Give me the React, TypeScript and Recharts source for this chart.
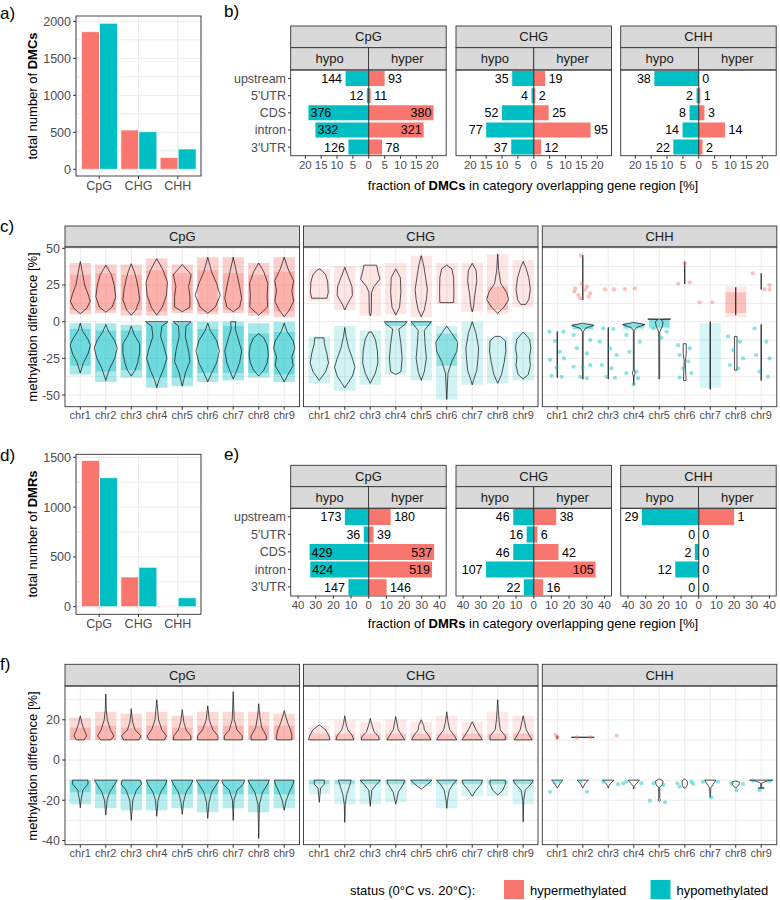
import React from "react";
import {
  BarChart, Bar, XAxis, YAxis, CartesianGrid, ReferenceLine, ReferenceArea,
  LabelList, ComposedChart, Line, Scatter,
} from "recharts";

const RED = "#F8766D";
const TEAL = "#00BFC4";
const FONT = "'Liberation Sans', Arial, Helvetica, sans-serif";
const TICK_COLOR = "#4D4D4D";
const FRAME = "#333333";
const STRIP = "#D9D9D9";
const GRID = "#EBEBEB";

// ---------------- a) / d) totals ----------------
const contexts = ["CpG", "CHG", "CHH"];
const dmcHyperTotal = [1860, 531, 160];
const dmcHypoTotal = [1973, 508, 274];
const dmrHyperTotal = [1469, 299, 5];
const dmrHypoTotal = [1295, 395, 90];

// ---------------- b) / e) gene regions ----------------
const regions = ["upstream", "5'UTR", "CDS", "intron", "3'UTR"];
const dmcCpgHypoPct = [7.3, 0.6, 19.0, 16.8, 6.4];
const dmcCpgHyperPct = [5.0, 0.6, 20.4, 17.3, 4.2];
const dmcChgHypoPct = [6.8, 0.7, 10.0, 15.0, 7.1];
const dmcChgHyperPct = [3.6, 0.5, 4.7, 17.9, 2.3];
const dmcChhHypoPct = [14.0, 0.7, 2.9, 5.1, 8.0];
const dmcChhHyperPct = [0, 0.5, 1.8, 8.3, 1.2];
const dmcCpgHypoN = [144, 12, 376, 332, 126];
const dmcCpgHyperN = [93, 11, 380, 321, 78];
const dmcChgHypoN = [35, 4, 52, 77, 37];
const dmcChgHyperN = [19, 2, 25, 95, 12];
const dmcChhHypoN = [38, 2, 8, 14, 22];
const dmcChhHyperN = [0, 1, 3, 14, 2];

const dmrCpgHypoPct = [13.5, 2.8, 33.5, 33.1, 11.5];
const dmrCpgHyperPct = [12.4, 2.7, 37.0, 35.8, 10.1];
const dmrChgHypoPct = [11.6, 4.0, 11.6, 27.0, 5.6];
const dmrChgHyperPct = [12.7, 2.0, 14.0, 35.0, 5.3];
const dmrChhHypoPct = [32.2, 0, 2.2, 13.3, 0];
const dmrChhHyperPct = [20, 0, 0, 0, 0];
const dmrCpgHypoN = [173, 36, 429, 424, 147];
const dmrCpgHyperN = [180, 39, 537, 519, 146];
const dmrChgHypoN = [46, 16, 46, 107, 22];
const dmrChgHyperN = [38, 6, 42, 105, 16];
const dmrChhHypoN = [29, 0, 2, 12, 0];
const dmrChhHyperN = [1, 0, 0, 0, 0];

const dmcTicks = [-20, -15, -10, -5, 0, 5, 10, 15, 20];
const dmrTicks = [-40, -30, -20, -10, 0, 10, 20, 30, 40];

// ---------------- c) / f) violins ----------------
const chromosomes = ["chr1", "chr2", "chr3", "chr4", "chr5", "chr6", "chr7", "chr8", "chr9"];
const chrPos = [1, 2, 3, 4, 5, 6, 7, 8, 9];

// knots: [methylation difference, half width]
const cCpgHyperV = [
  [[5.5, 0], [9, 0.25], [14, 0.39], [19, 0.3], [25, 0.17], [32, 0.1], [41, 0]],
  [[6.5, 0], [10, 0.25], [17, 0.39], [25, 0.33], [32, 0.22], [38.5, 0]],
  [[4.5, 0], [8, 0.18], [15, 0.33], [22, 0.28], [29, 0.2], [34, 0.12], [39.5, 0]],
  [[4.5, 0], [10, 0.22], [18, 0.38], [27, 0.42], [35, 0.25], [43, 0]],
  [[6.8, 0], [10, 0.3], [17, 0.3], [24, 0.25], [32, 0.35], [39, 0]],
  [[5.7, 0], [10, 0.3], [18, 0.49], [26, 0.35], [34, 0.15], [44, 0]],
  [[6.8, 0], [10, 0.25], [16, 0.33], [24, 0.25], [32, 0.15], [40, 0.05], [44, 0]],
  [[4.5, 0], [10, 0.35], [18, 0.33], [26, 0.36], [34, 0.2], [40, 0]],
  [[3.4, 0], [8, 0.2], [14, 0.37], [21, 0.3], [28, 0.37], [36, 0.15], [44, 0]],
];
const cCpgHypoV = [
  [[-1, 0], [-6, 0.08], [-12, 0.3], [-16, 0.4], [-22, 0.3], [-28, 0.12], [-35, 0]],
  [[-2, 0], [-7, 0.12], [-13, 0.35], [-18, 0.45], [-25, 0.35], [-32, 0.15], [-40, 0]],
  [[-3, 0], [-9, 0.12], [-15, 0.33], [-21, 0.33], [-28, 0.25], [-33, 0.15], [-37, 0]],
  [[0, 0.44], [-3, 0.2], [-10, 0.15], [-18, 0.3], [-25, 0.4], [-33, 0.25], [-40, 0.08], [-45, 0]],
  [[0, 0.35], [-3, 0.15], [-10, 0.12], [-20, 0.25], [-27, 0.3], [-35, 0.12], [-44, 0]],
  [[-1, 0], [-6, 0.1], [-13, 0.35], [-20, 0.46], [-28, 0.35], [-35, 0.15], [-41, 0]],
  [[0, 0.1], [-5, 0.08], [-12, 0.2], [-20, 0.33], [-28, 0.25], [-34, 0.12], [-39, 0]],
  [[-8, 0], [-11, 0.2], [-16, 0.33], [-22, 0.38], [-28, 0.33], [-33, 0.2], [-37, 0]],
  [[-1, 0], [-7, 0.12], [-13, 0.35], [-18, 0.42], [-24, 0.3], [-30, 0.35], [-36, 0.15], [-41, 0]],
];
const cChgHyperV = [
  [[16, 0.3], [20, 0.35], [27, 0.33], [32, 0.25], [35, 0.1], [36, 0]],
  [[8, 0], [12, 0.1], [18, 0.3], [24, 0.28], [30, 0.15], [37, 0]],
  [[4, 0], [6, 0.04], [20, 0.05], [24, 0.15], [29, 0.38], [34, 0.3], [38.5, 0.25]],
  [[4.5, 0], [10, 0.15], [20, 0.2], [30, 0.18], [36, 0]],
  [[3.4, 0], [8, 0.12], [15, 0.2], [22, 0.24], [30, 0.17], [38, 0.1], [45, 0]],
  [[13, 0.27], [20, 0.28], [30, 0.27], [36, 0.2], [38.6, 0]],
  [[6.8, 0], [10, 0.05], [18, 0.1], [28, 0.18], [35, 0.15], [39.8, 0]],
  [[5.7, 0], [10, 0.25], [15, 0.43], [20, 0.35], [26, 0.12], [35, 0.04], [46, 0]],
  [[11.8, 0.1], [15, 0.22], [22, 0.28], [30, 0.22], [37, 0.1], [41, 0]],
];
const cChgHypoV = [
  [[-11, 0.18], [-15, 0.2], [-22, 0.3], [-28, 0.36], [-34, 0.25], [-40, 0]],
  [[-4, 0], [-10, 0.05], [-18, 0.15], [-25, 0.3], [-31, 0.4], [-37, 0.3], [-45, 0]],
  [[-7, 0.05], [-12, 0.2], [-20, 0.28], [-28, 0.3], [-35, 0.2], [-42, 0]],
  [[0, 0.45], [-2, 0.35], [-5, 0.12], [-15, 0.2], [-25, 0.25], [-34, 0.2], [-36, 0]],
  [[0, 0.4], [-2, 0.3], [-6, 0.12], [-15, 0.15], [-25, 0.2], [-34, 0.12], [-40, 0]],
  [[-3, 0], [-8, 0.2], [-14, 0.43], [-20, 0.4], [-27, 0.2], [-35, 0.05], [-53, 0]],
  [[0, 0], [-8, 0.15], [-18, 0.25], [-26, 0.22], [-33, 0.18], [-40, 0.05], [-43, 0]],
  [[-10, 0.1], [-13, 0.3], [-20, 0.32], [-28, 0.25], [-36, 0.15], [-42, 0]],
  [[-7, 0], [-12, 0.25], [-18, 0.3], [-24, 0.25], [-30, 0.28], [-36, 0.2], [-39, 0]],
];
const cChhHyperV = [
  null,
  [[14.8, 0], [45.5, 0]],
  null,
  null,
  null,
  [[25.7, 0], [41, 0]],
  null,
  [[4.5, 0], [23.4, 0]],
  [[22, 0], [33, 0]],
];
const cChhHypoV = [
  [[-6.8, 0.01], [-38, 0.01]],
  [[-1, 0], [-2.5, 0.44], [-4.5, 0.1], [-7, 0.015], [-39, 0.015]],
  [[-4, 0.01], [-39, 0.01]],
  [[-0.5, 0], [-2, 0.44], [-4, 0.1], [-6, 0.015], [-33, 0.015], [-35, 0.06], [-37, 0.015], [-43, 0]],
  [[1.8, 0.45], [1.5, 0.05], [0, 0.15], [-3, 0.12], [-7, 0.02], [-39, 0.015]],
  [[-15, 0.06], [-22, 0.06], [-27, 0.02], [-35, 0.04], [-40, 0.05]],
  [[0, 0.01], [-46, 0.01]],
  [[-10, 0.05], [-33, 0.05]],
  [[-2, 0.01], [-40, 0.01]],
];

const fCpgHyperV = [
  [[10, 0.15], [12, 0.25], [15, 0.15], [18, 0.07], [22, 0]],
  [[10, 0.2], [12, 0.32], [15, 0.18], [20, 0.06], [25, 0.02], [32.8, 0]],
  [[10, 0.3], [12, 0.38], [15, 0.15], [19, 0.05], [25.5, 0]],
  [[10, 0.3], [12, 0.38], [15, 0.2], [20, 0.07], [30, 0]],
  [[10, 0.35], [12, 0.33], [15, 0.15], [19, 0.06], [25, 0]],
  [[10, 0.4], [12, 0.4], [15, 0.2], [20, 0.06], [27, 0]],
  [[10, 0.35], [12, 0.35], [15, 0.15], [20, 0.04], [34, 0]],
  [[10, 0.3], [12, 0.3], [16, 0.12], [22, 0.04], [28, 0]],
  [[10, 0.3], [12, 0.3], [15, 0.25], [18, 0.15], [22, 0.05], [24.5, 0]],
];
const fCpgHypoV = [
  [[-10, 0.3], [-12, 0.3], [-15, 0.1], [-20, 0.03], [-23.7, 0]],
  [[-10, 0.45], [-12, 0.35], [-16, 0.15], [-20, 0.05], [-27.4, 0]],
  [[-10, 0.35], [-12, 0.4], [-15, 0.2], [-20, 0.06], [-30, 0]],
  [[-10, 0.4], [-12, 0.35], [-16, 0.15], [-20, 0.05], [-28, 0]],
  [[-10, 0.42], [-12, 0.35], [-16, 0.15], [-21, 0.05], [-27, 0]],
  [[-10, 0.45], [-12, 0.35], [-16, 0.15], [-21, 0.05], [-29, 0]],
  [[-10, 0.45], [-12, 0.4], [-15, 0.15], [-20, 0.03], [-30, 0]],
  [[-10, 0.42], [-12, 0.35], [-16, 0.15], [-22, 0.03], [-39, 0]],
  [[-10, 0.38], [-12, 0.35], [-16, 0.2], [-20, 0.08], [-25, 0]],
];
const fChgHyperV = [
  [[10, 0.42], [12, 0.38], [15, 0.25], [17, 0.05], [17.4, 0]],
  [[10, 0.35], [12, 0.3], [15, 0.12], [18, 0.05], [22, 0]],
  [[10, 0.35], [11.5, 0.33], [14, 0.15], [18, 0.05], [20.7, 0]],
  [[10, 0.35], [12, 0.25], [15, 0.1], [21.6, 0]],
  [[10, 0.38], [12, 0.3], [15, 0.12], [17, 0.1], [20, 0]],
  [[10, 0.4], [12, 0.3], [15, 0.12], [19, 0.05], [24, 0]],
  [[10, 0.4], [12, 0.3], [15, 0.15], [19, 0]],
  [[10, 0.3], [12, 0.3], [15, 0.1], [20, 0.05], [30, 0]],
  [[10, 0.35], [12, 0.25], [15, 0.12], [22, 0]],
];
const fChgHypoV = [
  [[-10, 0.2], [-12, 0.2], [-14, 0.05], [-21, 0]],
  [[-10, 0.25], [-13, 0.18], [-17, 0.08], [-22, 0.02], [-31, 0]],
  [[-10, 0.4], [-12, 0.25], [-15, 0.06], [-23, 0]],
  [[-10, 0.35], [-12, 0.3], [-16, 0.1], [-22, 0]],
  [[-10, 0.42], [-12, 0.25], [-14, 0.05], [-14.5, 0]],
  [[-10, 0.4], [-12, 0.25], [-15, 0.1], [-20, 0.03], [-24, 0]],
  [[-10, 0.4], [-12, 0.35], [-15, 0.15], [-18, 0]],
  [[-10, 0.3], [-12, 0.3], [-15, 0.2], [-17.4, 0]],
  [[-10, 0.4], [-12, 0.3], [-15, 0.08], [-20, 0.02], [-30.7, 0]],
];
const fChhHyperV = [
  [[10.5, 0.02], [12, 0.02]],
  [[11.3, 0.45]],
  null, null, null, null, null, null, null,
];
const fChhHypoV = [
  [[-10, 0.22], [-11.5, 0.12], [-13.5, 0.02], [-14, 0]],
  [[-10, 0.22], [-11.5, 0.1], [-13.5, 0.02], [-14, 0]],
  [[-10, 0.22], [-11.5, 0.1], [-13, 0.02], [-14, 0]],
  [[-10, 0.22], [-11.5, 0.12], [-13, 0.02], [-14.5, 0]],
  [[-9.5, 0.02], [-10.5, 0.15], [-12.5, 0.12], [-13.5, 0.02], [-19, 0.02], [-20, 0.05], [-20.5, 0]],
  [[-9.5, 0.02], [-10.5, 0.1], [-12.5, 0.1], [-14, 0.02]],
  [[-10, 0.22], [-12, 0.12], [-14, 0.02], [-18.5, 0.01]],
  [[-10.5, 0.05], [-11, 0.15], [-12.5, 0.12], [-13.5, 0.03], [-14, 0]],
  [[-10, 0.45], [-10.5, 0.2], [-11.5, 0.02], [-13.9, 0.02], [-14, 0.12]],
];

// dense point clouds: [low, high, coreLow, coreHigh]
const cCpgHyperCloud = [[5, 40, 8, 32], [6, 39, 8, 33], [4, 39, 8, 32], [4, 43, 7, 35], [6, 39, 8, 33], [5, 44, 7, 35], [6, 44, 8, 33], [4, 40, 6, 32], [3, 44, 7, 34]];
const cCpgHypoCloud = [[-36, -1, -30, -5], [-41, -1, -34, -6], [-38, -2, -33, -6], [-45, 0, -38, -1], [-44, 0, -38, -1], [-41, 0, -35, -5], [-40, 0, -35, -3], [-38, -1, -35, -8], [-41, 0, -36, -7]];
const cChgHyperCloud = [[14, 36], [8, 38], [4, 38], [5, 40], [3, 45], [12, 40], [7, 40], [5, 46, 8, 24], [10, 42]];
const cChgHypoCloud = [[-42, -10], [-47, -3], [-43, -6], [-36, 0, -3, 0], [-40, 0, -3, 0], [-53, -3, -30, -8], [-43, 0], [-42, -10], [-40, -7]];
const cChhHyperCloud = [null, null, null, null, null, null, null, [3, 24, 6, 20], null];
const cChhHypoCloud = [null, [-6, -1, -5, -1.5], null, [-6, -0.5, -4.5, -1], [-5, 2, -4, 1.5], null, [-45, -1], null, null];
const fCpgHyperCloud = [[10, 21, 10, 16], [10, 24, 10, 17], [10, 23, 10, 16], [10, 24, 10, 17], [10, 22, 10, 16], [10, 24, 10, 17], [10, 24, 10, 17], [10, 24, 10, 17], [10, 23, 10, 17]];
const fCpgHypoCloud = [[-22, -10, -16, -10], [-24, -10, -17, -10], [-25, -10, -17, -10], [-25, -10, -17, -10], [-24, -10, -17, -10], [-26, -10, -17, -10], [-24, -10, -17, -10], [-26, -10, -17, -10], [-24, -10, -17, -10]];
const fChgHyperCloud = [[10, 17, 10, 13], [10, 20, 10, 13], [10, 19, 10, 13], [10, 20, 10, 13], [10, 19, 10, 13], [10, 22, 10, 13], [10, 19, 10, 13], [10, 24, 10, 13], [10, 22, 10, 13]];
const fChgHypoCloud = [[-17, -10, -12, -10], [-22, -10, -12, -10], [-22, -10, -12, -10], [-21, -10, -12, -10], [-13, -10, -12, -10], [-24, -10, -12, -10], [-18, -10, -12, -10], [-18, -10, -12, -10], [-22, -10, -12, -10]];

// sparse individual points: [x (chromosome + jitter), methylation difference]
const cChhHyperPts = [
  [1.93, 45], [1.67, 20.5], [1.83, 18.2], [2.16, 23.9], [2.29, 19.3], [1.9, 15.9], [2.09, 21.6], [1.7, 22.7], [2.22, 17], [1.96, 26],
  [2.87, 22], [3.22, 22], [3.65, 22.3], [4.04, 22.7],
  [6.0, 39.8], [5.74, 26], [6.2, 26.8], [6.58, 13.2], [7.08, 13.2],
  [8.67, 33], [9.33, 25], [9.13, 22], [9.33, 22],
];
const cChhHypoPts = [
  [0.69, -6.8], [1.24, -6.8], [0.91, -13.2], [1.1, -20.5], [0.71, -26], [1.26, -25], [0.97, -31.4], [0.78, -36.8], [1.17, -37.5],
  [1.64, -9], [2.29, -12.5], [1.77, -18], [2.16, -21.6], [1.64, -30.7], [2.0, -31.4], [2.29, -29.5], [1.9, -37.5], [2.16, -38.6],
  [2.8, -4.5], [3.2, -5], [2.67, -13.6], [3.07, -18.2], [3.33, -22.7], [2.74, -29.5], [3.13, -31.8], [2.93, -37.5], [3.26, -38.2],
  [3.71, -9], [4.24, -13.6], [3.83, -20.5], [4.1, -34], [3.71, -35], [4.17, -38.6], [4.0, -42.7],
  [4.77, -4.5], [5.29, -6.8], [5.09, -11],
  [5.74, -16], [6.2, -18], [5.8, -22.7], [6.13, -27], [5.93, -31.8], [6.26, -35], [5.8, -38],
  [7.7, -10], [8.16, -13.6], [7.9, -19.3], [8.29, -25], [7.77, -29.5], [8.09, -31.8],
  [8.74, -4.5], [9.2, -13.6], [8.8, -22.7], [9.33, -25], [8.93, -34], [9.26, -37.5],
];
const fChhHyperPts = [[0.93, 12.4], [1.0, 11.3], [1.76, 11.3], [2.29, 11.3], [3.33, 12.1]];
const fChhHypoPts = [
  [0.71, -15.8], [0.91, -11.3], [1.1, -10.8], [2.16, -15.8], [1.9, -10.8],
  [2.8, -10.8], [3.39, -12], [3.59, -11.6], [3.71, -10.8], [4.3, -11.6],
  [4.63, -20.2], [5.23, -21], [4.77, -11.6], [5.16, -12.4],
  [5.71, -11.6], [5.8, -13.3], [6.26, -10.8], [6.33, -11.9],
  [6.71, -10.8], [7.3, -10.8], [7.04, -18.6],
  [7.84, -11.6], [8.29, -11.9], [8.03, -15],
  [8.67, -10.3], [9.33, -10.4], [8.93, -15],
];
const noPts: number[][] = [];

// ---------------- helpers ----------------
function outline(chr: number, knots: number[][]) {
  const right = knots.map(([y, h]) => ({ x: chr + h, y }));
  const left = knots.slice().reverse().map(([y, h]) => ({ x: chr - h, y }));
  return [...right, ...left, right[0]];
}

const makeDot = (color: string) => (p: any) =>
  p && p.cx != null ? <circle cx={p.cx} cy={p.cy} r={2.1} fill={color} fillOpacity={0.45} /> : <g />;

const makeLabel = (side: string, plotL: number, plotR: number) => (props: any) => {
  const vb = props.viewBox || {};
  const x = Number(vb.x ?? props.x);
  const w = Number(vb.width ?? props.width ?? 0);
  const y = Number(vb.y ?? props.y);
  const h = Number(vb.height ?? props.height ?? 0);
  if (!isFinite(x) || !isFinite(y)) return null;
  const zero = (plotL + plotR) / 2;
  let L = Math.min(x, x + w);
  let R = Math.max(x, x + w);
  if (String(props.value) === "0") { L = zero; R = zero; }
  const txt = String(props.value);
  const tw = txt.length * 6.95;
  let tx = 0;
  let anchor = "start";
  if (side === "hypo") {
    if (L - 3.5 - tw - 2 >= plotL) { tx = L - 3.5; anchor = "end"; } else { tx = L + 2; anchor = "start"; }
  } else {
    if (R + 3.5 + tw + 2 <= plotR) { tx = R + 3.5; anchor = "start"; } else { tx = R - 2; anchor = "end"; }
  }
  return (
    <text x={tx} y={y + h / 2} dy="0.36em" textAnchor={anchor} fontSize={12.5} fill="#000" fontFamily={FONT}>
      {txt}
    </text>
  );
};

const tickStyle = (size: number) => ({ fontSize: size, fill: TICK_COLOR, fontFamily: FONT });

// ---------------- components ----------------
function CountBars({ top, hyper, hypo, domain, ticks, grid }: any) {
  const data = contexts.map((c, i) => ({ ctx: c, hyper: hyper[i], hypo: hypo[i] }));
  return (
    <div style={{ position: "absolute", left: 0, top: top - 8 }}>
      <BarChart width={205} height={188} data={data} margin={{ top: 8, right: 4, bottom: 0, left: 36 }} barCategoryGap={2} barGap={0}>
        <CartesianGrid stroke={GRID} horizontalValues={grid} />
        <XAxis dataKey="ctx" height={20} padding={{ left: 3.5, right: 3.5 }} interval={0} axisLine={false}
          tickLine={{ stroke: FRAME }} tickSize={3} tick={tickStyle(12.5)} />
        <YAxis type="number" width={40} domain={domain} ticks={ticks} allowDataOverflow interval={0} axisLine={false}
          tickLine={{ stroke: FRAME }} tickSize={3} tick={tickStyle(12.5)} />
        <Bar dataKey="hyper" fill={RED} stroke="#fff" strokeWidth={0.7} isAnimationActive={false} />
        <Bar dataKey="hypo" fill={TEAL} stroke="#fff" strokeWidth={0.7} isAnimationActive={false} />
      </BarChart>
    </div>
  );
}

function DivFacet({ left, top, h, w, showY, domain, ticks, hypoPct, hyperPct, hypoN, hyperN }: any) {
  const yW = showY ? 72 : 0;
  const LM = showY ? 75 : 2;
  const RM = 3;
  const W = LM + w + RM;
  const H = h + 22;
  const data = regions.map((r, i) => ({
    region: r, hypo: -hypoPct[i], hyper: hyperPct[i], hypoN: hypoN[i], hyperN: hyperN[i],
  }));
  return (
    <div style={{ position: "absolute", left: left - LM, top }}>
      <BarChart layout="vertical" width={W} height={H} data={data}
        margin={{ top: 0, right: RM, bottom: 0, left: LM - yW }} stackOffset="sign" barCategoryGap={1}>
        <XAxis type="number" domain={domain} ticks={ticks} allowDataOverflow interval={0} height={22}
          tickFormatter={(v: number) => String(Math.abs(v))} axisLine={false}
          tickLine={{ stroke: FRAME }} tickSize={3} tick={tickStyle(11.5)} />
        <YAxis type="category" dataKey="region" width={yW} hide={!showY} axisLine={false}
          tickLine={{ stroke: FRAME }} tickSize={3} tick={tickStyle(12.5)} interval={0} />
        <Bar dataKey="hypo" stackId="s" fill={TEAL} stroke="none" minPointSize={0.2} isAnimationActive={false}>
          <LabelList dataKey="hypoN" content={makeLabel("hypo", LM, LM + w)} />
        </Bar>
        <Bar dataKey="hyper" stackId="s" fill={RED} stroke="none" minPointSize={0.2} isAnimationActive={false}>
          <LabelList dataKey="hyperN" content={makeLabel("hyper", LM, LM + w)} />
        </Bar>
        <ReferenceLine x={0} stroke="#1a1a1a" strokeWidth={0.9} />
      </BarChart>
    </div>
  );
}

function ViolinFacet({ left, top, h, w, showY, domain, ticks, gridVals, hyperV, hypoV, hyperC, hypoC, ops, hyperPts, hypoPts }: any) {
  const yW = showY ? 30 : 0;
  const LM = showY ? 65 : 2;
  const RM = 3;
  const TM = 9;
  const W = LM + w + RM;
  const H = TM + h + 20;
  const areas: any[] = [];
  const addCloud = (cl: any[], color: string, tag: string) => {
    cl.forEach((c: any, i: number) => {
      if (!c) return;
      const x = chrPos[i];
      areas.push(
        <ReferenceArea key={`${tag}o${i}`} x1={x - 0.42} x2={x + 0.42} y1={c[0]} y2={c[1]}
          fill={color} fillOpacity={ops[0]} stroke="none" ifOverflow="hidden" />
      );
      if (c.length > 2) {
        areas.push(
          <ReferenceArea key={`${tag}c${i}`} x1={x - 0.4} x2={x + 0.4} y1={c[2]} y2={c[3]}
            fill={color} fillOpacity={ops[1]} stroke="none" ifOverflow="hidden" />
        );
      }
    });
  };
  addCloud(hyperC, RED, "r");
  addCloud(hypoC, TEAL, "t");
  const lines: any[] = [];
  const addViolins = (vs: any[], tag: string) => {
    vs.forEach((k: any, i: number) => {
      if (!k) return;
      lines.push(
        <Line key={`${tag}${i}`} data={outline(chrPos[i], k)} dataKey="y" type="linear" stroke="#1a1a1a"
          strokeWidth={0.75} dot={false} activeDot={false} isAnimationActive={false} />
      );
    });
  };
  addViolins(hyperV, "vr");
  addViolins(hypoV, "vt");
  const rPts = hyperPts.map((p: number[]) => ({ x: p[0], y: p[1] }));
  const tPts = hypoPts.map((p: number[]) => ({ x: p[0], y: p[1] }));
  return (
    <div style={{ position: "absolute", left: left - LM, top: top - TM }}>
      <ComposedChart width={W} height={H} margin={{ top: TM, right: RM, bottom: 0, left: LM - yW }}>
        <CartesianGrid stroke={GRID} horizontalValues={gridVals} verticalValues={chrPos} />
        <XAxis type="number" dataKey="x" domain={[0.4, 9.6]} ticks={chrPos} allowDataOverflow interval={0}
          tickFormatter={(v: number) => chromosomes[v - 1]} height={20} axisLine={false}
          tickLine={{ stroke: FRAME }} tickSize={3} tick={tickStyle(11)} />
        <YAxis type="number" dataKey="y" domain={domain} ticks={ticks} allowDataOverflow interval={0} width={yW}
          hide={!showY} axisLine={false} tickLine={{ stroke: FRAME }} tickSize={3} tick={tickStyle(12.5)} />
        {areas}
        {rPts.length > 0 && <Scatter data={rPts} fill={RED} shape={makeDot(RED)} isAnimationActive={false} />}
        {tPts.length > 0 && <Scatter data={tPts} fill={TEAL} shape={makeDot(TEAL)} isAnimationActive={false} />}
        {lines}
      </ComposedChart>
    </div>
  );
}

// ---------------- overlay (frames, strips, titles, legend) ----------------
const divLefts = [290.7, 456, 620.7];
const divW = 155.5;
const vioLefts = [65, 303.5, 542.3];
const vioW = 234.5;

function Overlay() {
  const els: any[] = [];
  const rect = (k: string, x: number, y: number, w: number, h: number, fill: string) =>
    els.push(<rect key={k} x={x} y={y} width={w} height={h} fill={fill} stroke={FRAME} strokeWidth={0.9} />);
  const txt = (k: string, x: number, y: number, s: string, size = 13, anchor = "middle", color = "#1A1A1A") =>
    els.push(<text key={k} x={x} y={y} fontSize={size} textAnchor={anchor} fill={color}>{s}</text>);

  rect("fa", 76, 16, 125, 160, "none");
  rect("fd", 76, 454.3, 125, 160, "none");
  const stripDiv = (tag: string, sTop: number, sMid: number, pTop: number, pH: number) => {
    divLefts.forEach((L, i) => {
      rect(`${tag}s${i}`, L, sTop, divW, sMid - sTop, STRIP);
      rect(`${tag}h${i}`, L, sMid, divW / 2, pTop - sMid, STRIP);
      rect(`${tag}k${i}`, L + divW / 2, sMid, divW / 2, pTop - sMid, STRIP);
      rect(`${tag}p${i}`, L, pTop, divW, pH, "none");
      txt(`${tag}t${i}`, L + divW / 2, (sTop + sMid) / 2 + 4.6, contexts[i]);
      txt(`${tag}o${i}`, L + divW / 4, (sMid + pTop) / 2 + 4.6, "hypo");
      txt(`${tag}e${i}`, L + (3 * divW) / 4, (sMid + pTop) / 2 + 4.6, "hyper");
    });
  };
  stripDiv("b", 26, 47.7, 70, 85.7);
  stripDiv("e", 465.3, 486.7, 508.3, 87.7);
  const stripVio = (tag: string, sTop: number, pTop: number, pH: number) => {
    vioLefts.forEach((L, i) => {
      rect(`${tag}s${i}`, L, sTop, vioW, pTop - sTop, STRIP);
      rect(`${tag}p${i}`, L, pTop, vioW, pH, "none");
      txt(`${tag}t${i}`, L + vioW / 2, (sTop + pTop) / 2 + 4.6, contexts[i]);
    });
  };
  stripVio("c", 226, 247, 159.7);
  stripVio("f", 664.3, 686, 158.7);

  const letters = [["a)", 0, 19], ["b)", 224, 17], ["c)", 0, 232], ["d)", 0, 461], ["e)", 224, 460], ["f)", 0, 670]];
  letters.forEach(([s, x, y]: any) => txt(`L${s}`, x, y, s, 17, "start", "#000"));

  return (
    <svg width={780} height={900} style={{ position: "absolute", left: 0, top: 0, pointerEvents: "none" }} fontFamily={FONT}>
      {els}
      <text transform="translate(37,96) rotate(-90)" textAnchor="middle" fontSize={13} fill="#000">
        total number of <tspan fontWeight="bold">DMCs</tspan>
      </text>
      <text transform="translate(37,534) rotate(-90)" textAnchor="middle" fontSize={13} fill="#000">
        total number of <tspan fontWeight="bold">DMRs</tspan>
      </text>
      <text transform="translate(37,327) rotate(-90)" textAnchor="middle" fontSize={13} fill="#000">
        methylation difference [%]
      </text>
      <text transform="translate(37,766) rotate(-90)" textAnchor="middle" fontSize={13} fill="#000">
        methylation difference [%]
      </text>
      <text x={533} y={189.5} textAnchor="middle" fontSize={13} fill="#000">
        fraction of <tspan fontWeight="bold">DMCs</tspan> in category overlapping gene region [%]
      </text>
      <text x={533} y={628} textAnchor="middle" fontSize={13} fill="#000">
        fraction of <tspan fontWeight="bold">DMRs</tspan> in category overlapping gene region [%]
      </text>
      <text x={350} y={895} fontSize={13} fill="#000">status (0°C vs. 20°C):</text>
      <rect x={504} y={880} width={20} height={19} fill={RED} />
      <text x={530} y={895} fontSize={13} fill="#000">hypermethylated</text>
      <rect x={650.5} y={880} width={20} height={19} fill={TEAL} />
      <text x={676.5} y={895} fontSize={13} fill="#000">hypomethylated</text>
    </svg>
  );
}

export default function App() {
  const cDomain = [-57.9, 50.9];
  const cTicks = [-50, -25, 0, 25, 50];
  const cGrid = [-50, -37.5, -25, -12.5, 0, 12.5, 25, 37.5, 50];
  const fDomain = [-42.1, 36.8];
  const fTicks = [-40, -20, 0, 20];
  const fGrid = [-40, -30, -20, -10, 0, 10, 20, 30];
  return (
    <div style={{ position: "absolute", left: 0, top: 0, width: 780, height: 900, background: "#fff", fontFamily: FONT, overflow: "hidden" }}>
      <CountBars top={16} hyper={dmcHyperTotal} hypo={dmcHypoTotal} domain={[-90.5, 2072]}
        ticks={[0, 500, 1000, 1500, 2000]} grid={[0, 250, 500, 750, 1000, 1250, 1500, 1750, 2000]} />
      <CountBars top={454.3} hyper={dmrHyperTotal} hypo={dmrHypoTotal} domain={[-73, 1533]}
        ticks={[0, 500, 1000, 1500]} grid={[0, 250, 500, 750, 1000, 1250, 1500]} />

      <DivFacet left={divLefts[0]} top={70} h={85.7} w={divW} showY domain={[-24.5, 24.5]} ticks={dmcTicks}
        hypoPct={dmcCpgHypoPct} hyperPct={dmcCpgHyperPct} hypoN={dmcCpgHypoN} hyperN={dmcCpgHyperN} />
      <DivFacet left={divLefts[1]} top={70} h={85.7} w={divW} showY={false} domain={[-24.5, 24.5]} ticks={dmcTicks}
        hypoPct={dmcChgHypoPct} hyperPct={dmcChgHyperPct} hypoN={dmcChgHypoN} hyperN={dmcChgHyperN} />
      <DivFacet left={divLefts[2]} top={70} h={85.7} w={divW} showY={false} domain={[-24.5, 24.5]} ticks={dmcTicks}
        hypoPct={dmcChhHypoPct} hyperPct={dmcChhHyperPct} hypoN={dmcChhHypoN} hyperN={dmcChhHyperN} />

      <DivFacet left={divLefts[0]} top={508.3} h={87.7} w={divW} showY domain={[-44, 44]} ticks={dmrTicks}
        hypoPct={dmrCpgHypoPct} hyperPct={dmrCpgHyperPct} hypoN={dmrCpgHypoN} hyperN={dmrCpgHyperN} />
      <DivFacet left={divLefts[1]} top={508.3} h={87.7} w={divW} showY={false} domain={[-44, 44]} ticks={dmrTicks}
        hypoPct={dmrChgHypoPct} hyperPct={dmrChgHyperPct} hypoN={dmrChgHypoN} hyperN={dmrChgHyperN} />
      <DivFacet left={divLefts[2]} top={508.3} h={87.7} w={divW} showY={false} domain={[-44, 44]} ticks={dmrTicks}
        hypoPct={dmrChhHypoPct} hyperPct={dmrChhHyperPct} hypoN={dmrChhHypoN} hyperN={dmrChhHyperN} />

      <ViolinFacet left={vioLefts[0]} top={247} h={159.7} w={vioW} showY domain={cDomain} ticks={cTicks} gridVals={cGrid}
        hyperV={cCpgHyperV} hypoV={cCpgHypoV} hyperC={cCpgHyperCloud} hypoC={cCpgHypoCloud} ops={[0.34, 0.34]}
        hyperPts={noPts} hypoPts={noPts} />
      <ViolinFacet left={vioLefts[1]} top={247} h={159.7} w={vioW} showY={false} domain={cDomain} ticks={cTicks} gridVals={cGrid}
        hyperV={cChgHyperV} hypoV={cChgHypoV} hyperC={cChgHyperCloud} hypoC={cChgHypoCloud} ops={[0.18, 0.32]}
        hyperPts={noPts} hypoPts={noPts} />
      <ViolinFacet left={vioLefts[2]} top={247} h={159.7} w={vioW} showY={false} domain={cDomain} ticks={cTicks} gridVals={cGrid}
        hyperV={cChhHyperV} hypoV={cChhHypoV} hyperC={cChhHyperCloud} hypoC={cChhHypoCloud} ops={[0.16, 0.35]}
        hyperPts={cChhHyperPts} hypoPts={cChhHypoPts} />

      <ViolinFacet left={vioLefts[0]} top={686} h={158.7} w={vioW} showY domain={fDomain} ticks={fTicks} gridVals={fGrid}
        hyperV={fCpgHyperV} hypoV={fCpgHypoV} hyperC={fCpgHyperCloud} hypoC={fCpgHypoCloud} ops={[0.28, 0.35]}
        hyperPts={noPts} hypoPts={noPts} />
      <ViolinFacet left={vioLefts[1]} top={686} h={158.7} w={vioW} showY={false} domain={fDomain} ticks={fTicks} gridVals={fGrid}
        hyperV={fChgHyperV} hypoV={fChgHypoV} hyperC={fChgHyperCloud} hypoC={fChgHypoCloud} ops={[0.16, 0.3]}
        hyperPts={noPts} hypoPts={noPts} />
      <ViolinFacet left={vioLefts[2]} top={686} h={158.7} w={vioW} showY={false} domain={fDomain} ticks={fTicks} gridVals={fGrid}
        hyperV={fChhHyperV} hypoV={fChhHypoV} hyperC={[]} hypoC={[]} ops={[0.15, 0.3]}
        hyperPts={fChhHyperPts} hypoPts={fChhHypoPts} />

      <Overlay />
    </div>
  );
}
